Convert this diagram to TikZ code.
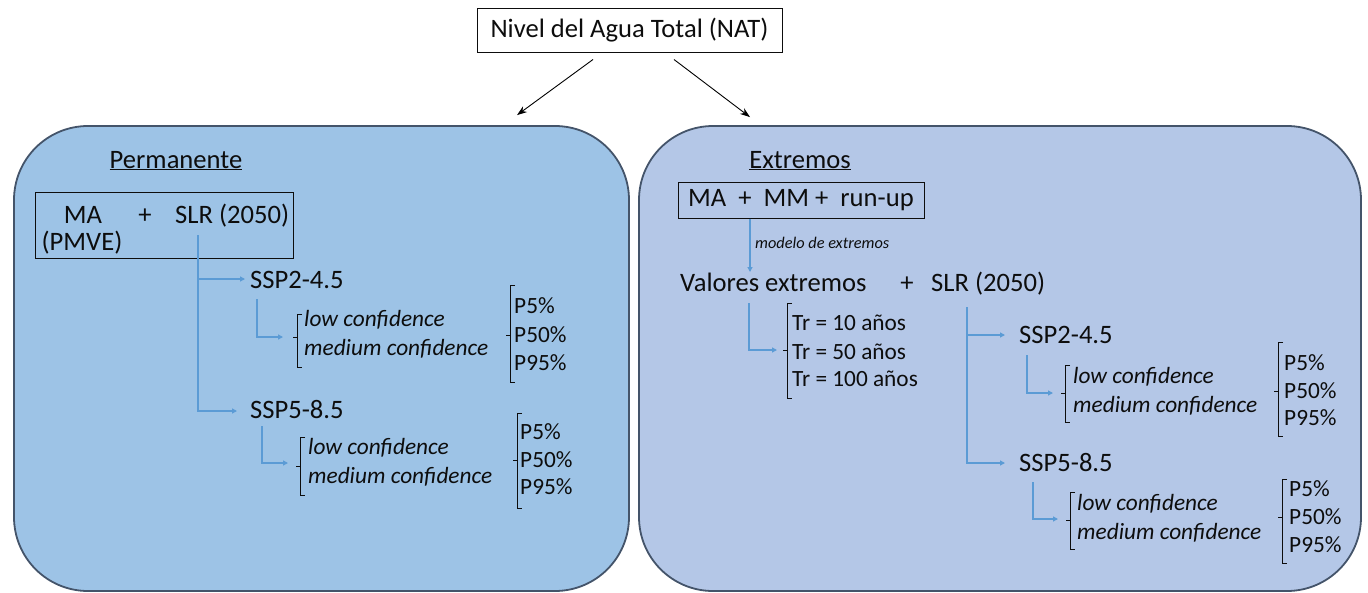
\documentclass[tikz,border=0pt]{standalone}
\usepackage{fontspec}
\setmainfont{Carlito}
\usetikzlibrary{arrows.meta}
\definecolor{panelA}{HTML}{9DC3E6}
\definecolor{panelB}{HTML}{B4C7E7}
\definecolor{edgec}{HTML}{44546A}
\definecolor{flowc}{HTML}{5B9BD5}
\definecolor{ink}{HTML}{0D0D0D}
\newcommand\bracketat[4]{%
  \draw[brk] (#1+5,#2) -- (#1,#2) -- (#1,#3) -- (#1+5,#3);
  \draw[brk] (#1,#4) -- (#1-4,#4);}
\begin{document}
\begin{tikzpicture}[x=1pt,y=-1pt,
  panel/.style={draw=edgec, line width=1.8pt, rounded corners=74pt, inner sep=0pt},
  frame/.style={draw=ink, line width=1pt, inner sep=0pt},
  txtbig/.style={font=\fontsize{26.6}{30}\selectfont, text=ink, inner sep=0pt},
  txtmid/.style={font=\fontsize{23.3}{27}\selectfont, text=ink, inner sep=0pt, anchor=base west},
  txtconf/.style={font=\fontsize{23.3}{27}\selectfont\itshape, text=ink, inner sep=0pt, anchor=base west},
  txtsmall/.style={font=\fontsize{16.3}{19}\selectfont\itshape, text=ink, inner sep=0pt, anchor=base west},
  flowarrow/.style={draw=flowc, line width=1.5pt, -{Triangle[length=5pt,width=5pt]}},
  blackarrow/.style={draw=black, line width=0.9pt, -{Stealth[length=10pt,width=7pt]}},
  brk/.style={draw=ink, line width=0.9pt}]
\useasboundingbox (0,0) rectangle (1368,592);

% top
\node[frame, txtbig, minimum width=305pt, minimum height=44pt] (nat) at (629.5,30) {Nivel del Agua Total (NAT)};

% panels
\node[panel, fill=panelA, minimum width=615pt, minimum height=465pt] (pl) at (321.5,358.5) {};
\node[panel, fill=panelB, minimum width=722pt, minimum height=465pt] (pr) at (1000,358.5) {};

\draw[blackarrow] ([xshift=-36.5pt,yshift=-7pt]nat.south) -- ([xshift=195.5pt,yshift=10pt]pl.north);
\draw[blackarrow] ([xshift=44.5pt,yshift=-7pt]nat.south) -- ([xshift=-250pt,yshift=8pt]pr.north);

% ---------- left panel ----------
\node[txtbig, anchor=base] (perm) at (176,168) {\underline{Permanente}};
\node[frame, minimum width=258pt, minimum height=66pt] (mabox) at (164,225) {};
\node[txtbig, anchor=base] (ma) at (83,223) {MA};
\node[txtbig, anchor=base] (plus1) at (145,223) {+};
\node[txtbig, anchor=base west] (slr1) at (175,223) {SLR (2050)};
\node[txtbig, anchor=base] (pmve) at (82,250) {(PMVE)};

\node[txtbig, anchor=base west] (sspA) at (250,288) {SSP2-4.5};
\node[txtbig, anchor=base west] (sspB) at (250,418) {SSP5-8.5};

\coordinate (slrbot) at (198,235);
\coordinate (tA) at (245,279);
\coordinate (tB) at (237,411);
\draw[flowarrow] (slrbot) |- (tA);
\draw[flowarrow] (slrbot) |- (tB);

\coordinate (sA) at (257,299);
\coordinate (eA) at (283,337);
\draw[flowarrow] (sA) |- (eA);
\coordinate (sB) at (262,426);
\coordinate (eB) at (288,463);
\draw[flowarrow] (sB) |- (eB);

\bracketat{297}{314}{367}{337}
\node[txtconf] (lcA) at (304,326) {low confidence};
\node[txtconf] (mcA) at (304,355) {medium confidence};
\bracketat{510}{285}{382}{335}
\node[txtmid] (pA1) at (514,313) {P5\%};
\node[txtmid] (pA2) at (514,342) {P50\%};
\node[txtmid] (pA3) at (514,370) {P95\%};

\bracketat{300}{437}{495}{466}
\node[txtconf] (lcB) at (308,454) {low confidence};
\node[txtconf] (mcB) at (308,483) {medium confidence};
\bracketat{517}{413}{508}{460}
\node[txtmid] (pB1) at (520,439) {P5\%};
\node[txtmid] (pB2) at (520,467) {P50\%};
\node[txtmid] (pB3) at (520,494) {P95\%};

% ---------- right panel ----------
\node[txtbig, anchor=base] (extr) at (800,168) {\underline{Extremos}};
\node[frame, txtbig, minimum width=246pt, minimum height=36pt] (mm) at (801,200) {MA\ \ +\ \ MM +\ \ run-up};
\coordinate (valtop) at (750,272);
\draw[flowarrow] ([xshift=-51pt]mm.south) -- (valtop);
\node[txtsmall] (modelo) at (755,248) {modelo de extremos};

\node[txtbig, anchor=base west] (val) at (680,291) {Valores extremos};
\node[txtbig, anchor=base] (plus2) at (907,291) {+};
\node[txtbig, anchor=base west] (slr2) at (931,291) {SLR (2050)};

\coordinate (sV) at (749,303);
\coordinate (eV) at (777,350);
\draw[flowarrow] (sV) |- (eV);
\bracketat{787}{303}{398}{350}
\node[txtmid] (tr1) at (792,330) {Tr = 10 años};
\node[txtmid] (tr2) at (792,359) {Tr = 50 años};
\node[txtmid] (tr3) at (792,386) {Tr = 100 años};

\coordinate (slr2bot) at (967,307);
\coordinate (tC) at (1005,335);
\coordinate (tD) at (1005,463);
\draw[flowarrow] (slr2bot) |- (tC);
\draw[flowarrow] (slr2bot) |- (tD);
\node[txtbig, anchor=base west] (sspC) at (1019,343) {SSP2-4.5};
\node[txtbig, anchor=base west] (sspD) at (1019,471) {SSP5-8.5};

\coordinate (sC) at (1027,355);
\coordinate (eC) at (1053,393);
\draw[flowarrow] (sC) |- (eC);
\bracketat{1065}{365}{422}{393}
\node[txtconf] (lcC) at (1073,383) {low confidence};
\node[txtconf] (mcC) at (1073,412) {medium confidence};
\bracketat{1278}{342}{436}{391}
\node[txtmid] (pC1) at (1284,370) {P5\%};
\node[txtmid] (pC2) at (1284,398) {P50\%};
\node[txtmid] (pC3) at (1284,425) {P95\%};

\coordinate (sD) at (1033,482);
\coordinate (eD) at (1058,519);
\draw[flowarrow] (sD) |- (eD);
\bracketat{1070}{492}{549}{520}
\node[txtconf] (lcD) at (1077,510) {low confidence};
\node[txtconf] (mcD) at (1077,539) {medium confidence};
\bracketat{1282}{479}{563}{517}
\node[txtmid] (pD1) at (1289,496) {P5\%};
\node[txtmid] (pD2) at (1289,524) {P50\%};
\node[txtmid] (pD3) at (1289,552) {P95\%};
\end{tikzpicture}
\end{document}
